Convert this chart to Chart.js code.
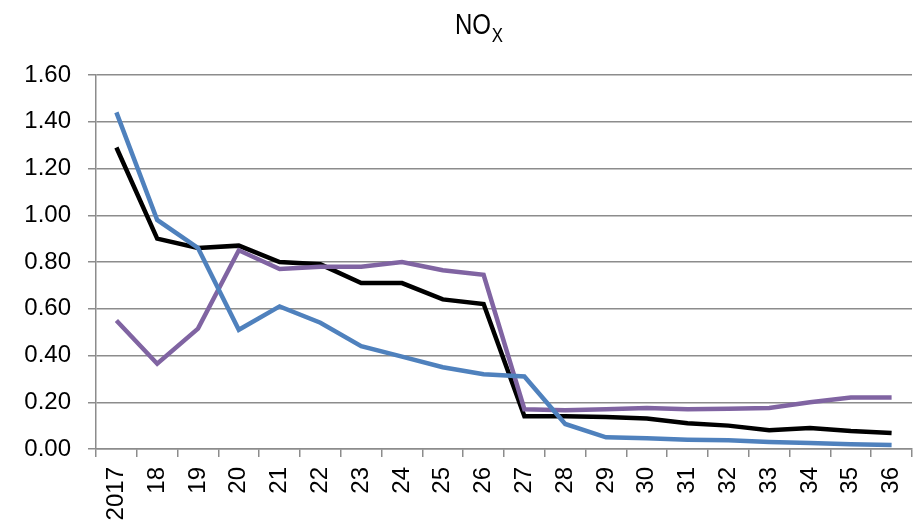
<!DOCTYPE html>
<html>
<head>
<meta charset="utf-8">
<script src="https://cdn.jsdelivr.net/npm/chart.js@4"></script>
<style>
  html, body { margin: 0; padding: 0; background: #fff; }
  #wrap { width: 915px; height: 522px; position: relative; }
</style>
</head>
<body>
<div id="wrap"><canvas id="noxChart"></canvas></div>
<script>
const years = ['2017', '18', '19', '20', '21', '22', '23', '24', '25', '26',
  '27', '28', '29', '30', '31', '32', '33', '34', '35', '36'];
const blackSeries = [1.29, 0.90, 0.86, 0.87, 0.80, 0.79, 0.71, 0.71, 0.64, 0.62,
  0.14, 0.14, 0.137, 0.13, 0.11, 0.10, 0.08, 0.09, 0.077, 0.068];
const blueSeries = [1.44, 0.98, 0.86, 0.51, 0.61, 0.54, 0.44, 0.395, 0.35, 0.32,
  0.31, 0.107, 0.05, 0.046, 0.04, 0.037, 0.03, 0.026, 0.02, 0.017];
const purpleSeries = [0.55, 0.365, 0.515, 0.85, 0.77, 0.78, 0.78, 0.80, 0.765, 0.745,
  0.17, 0.166, 0.17, 0.175, 0.17, 0.172, 0.175, 0.20, 0.22, 0.22];

const gridGray = '#8c8c8c';

// title with subscript X, drawn condensed on the canvas
const titlePlugin = {
  id: 'noxTitle',
  afterDraw(chart) {
    const ctx = chart.ctx;
    ctx.save();
    ctx.fillStyle = '#000';
    ctx.textBaseline = 'alphabetic';
    ctx.textAlign = 'left';
    ctx.translate(455, 0);
    ctx.scale(0.8, 1);
    ctx.font = '30px "Liberation Sans", Arial, sans-serif';
    const w = ctx.measureText('NO').width;
    ctx.fillText('NO', 0, 34);
    ctx.font = '21px "Liberation Sans", Arial, sans-serif';
    ctx.fillText('X', w + 1, 42);
    ctx.restore();
  }
};

const line = (data, color, order) => ({
  data, borderColor: color, backgroundColor: color, borderWidth: 4.5,
  tension: 0, pointRadius: 0, order, borderJoinStyle: 'miter'
});

new Chart(document.getElementById('noxChart'), {
  type: 'line',
  data: {
    labels: years,
    datasets: [
      line(blackSeries, '#000000', 2),
      line(purpleSeries, '#8064a2', 1),
      line(blueSeries, '#4f81bd', 0)
    ]
  },
  options: {
    responsive: true,
    maintainAspectRatio: false,
    animation: false,
    layout: { padding: { top: 75, right: 3, left: 16, bottom: 0 } },
    plugins: { legend: { display: false }, tooltip: { enabled: false } },
    scales: {
      x: {
        offset: true,
        grid: { offset: true, drawOnChartArea: false, color: gridGray, lineWidth: 1.5, tickLength: 8 },
        border: { color: gridGray, width: 1.5 },
        ticks: { color: '#000', font: { family: '"Liberation Sans", Arial, sans-serif', size: 24 },
          minRotation: 90, maxRotation: 90, padding: 10, autoSkip: false },
        afterFit(scale) {
          scale.height = 73;
          scale.paddingLeft = 0;
          scale.paddingRight = 0;
        }
      },
      y: {
        min: 0,
        max: 1.6,
        grid: { color: gridGray, lineWidth: 1.5, tickLength: 8 },
        border: { color: gridGray, width: 1.5 },
        ticks: { color: '#000', font: { family: '"Liberation Sans", Arial, sans-serif', size: 24 },
          stepSize: 0.2, padding: 17, callback: v => v.toFixed(2) },
        afterFit(scale) {
          scale.width = 80;
        }
      }
    }
  },
  plugins: [titlePlugin]
});
</script>
</body>
</html>
